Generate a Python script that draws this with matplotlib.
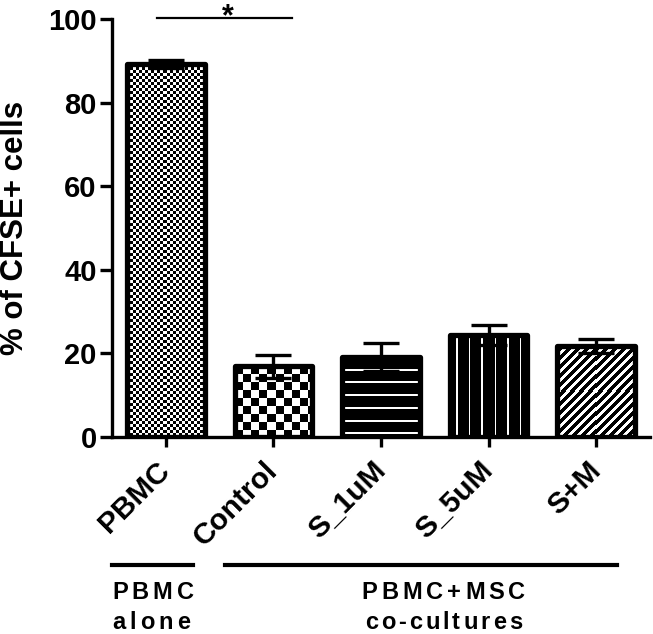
import matplotlib
matplotlib.use('Agg')
import numpy as np
from matplotlib import pyplot as plt
from matplotlib.transforms import offset_copy

plt.rcParams['font.family'] = ['Liberation Sans', 'DejaVu Sans']
plt.rcParams['font.weight'] = 'bold'

labels = ['PBMC', 'Control', 'S_1uM', 'S_5uM', 'S+M']
means = [89.2, 16.9, 19.2, 24.4, 21.8]
sem = [1.0, 2.8, 3.3, 2.4, 1.7]
patterns = ['fine_check', 'check', 'hlines', 'vlines', 'diag']
groups = [['PBMC', 'alone'], ['PBMC+MSC', 'co-cultures']]


def make_pattern(kind, w, h):
    # black parts opaque, white parts transparent (white bar underneath)
    yy, xx = np.mgrid[0:h, 0:w]
    if kind == 'fine_check':
        black = ((xx // 3) + (yy // 3)) % 2 == 0
    elif kind == 'check':
        black = ((xx // 8) + (yy // 8)) % 2 == 0
    elif kind == 'hlines':
        black = (yy % 12.5) >= 2
    elif kind == 'vlines':
        black = ((xx - 6) % 12.5) >= 1.5
    else:
        black = ((xx + yy) % 9) >= 4
    rgba = np.zeros((h, w, 4))
    rgba[..., 3] = black.astype(float)
    return rgba


def spaced_line(ax, x, y, s, tr, track, ha='left', **kw):
    # draw a string char by char with extra letter spacing (in pixels)
    r = ax.figure.canvas.get_renderer()
    widths = []
    for c in s:
        t = ax.text(0, 0, c, **kw)
        widths.append(t.get_window_extent(r).width)
        t.remove()
    total = sum(widths) + track * (len(s) - 1)
    dx = 0 if ha == 'left' else -total / 2
    for c, w in zip(s, widths):
        ax.text(x, y, c, ha='left', va='baseline', clip_on=False,
                transform=offset_copy(tr, ax.figure, x=dx, y=0, units='dots'), **kw)
        dx += w + track


fig = plt.figure(figsize=(6.53, 6.34), dpi=100)
ax = fig.add_axes([112 / 653, 1 - 437 / 634, (650 - 112) / 653, (437 - 19) / 634])
x = np.arange(len(labels))
ax.set_xlim(-0.5, 4.5)
ax.set_ylim(0, 100)

bars = ax.bar(x, means, width=0.72, color='white', edgecolor='none', zorder=1)
ax.errorbar(x, means, yerr=sem, fmt='none', ecolor='black', elinewidth=2.4,
            capsize=13, capthick=2.4, zorder=2)

for b, kind in zip(bars, patterns):
    x0, y0 = b.get_x(), b.get_y()
    w, h = b.get_width(), b.get_height()
    p0 = ax.transData.transform((x0, y0))
    p1 = ax.transData.transform((x0 + w, y0 + h))
    wp = int(round(p1[0] - p0[0]))
    hp = int(round(p1[1] - p0[1]))
    img = ax.imshow(make_pattern(kind, wp, hp), extent=(x0, x0 + w, y0, y0 + h),
                    interpolation='nearest', aspect='auto', zorder=3)
    img.set_clip_path(b)

# thick outlines on top
ax.bar(x, means, width=0.72, fill=False, edgecolor='black', linewidth=3.8,
       joinstyle='round', zorder=4)

ax.set_xlim(-0.5, 4.5)
ax.set_ylim(0, 100)
ax.set_yticks([0, 20, 40, 60, 80, 100])
ax.set_xticks(x)
ax.set_xticklabels(labels, rotation=45, ha='right', va='center', rotation_mode='anchor')
ax.set_ylabel('% of CFSE+ cells', fontsize=22.5, fontweight='bold')
ax.yaxis.set_label_coords(-0.152, 0.5)

for s in ['top', 'right']:
    ax.spines[s].set_visible(False)
for s in ['left', 'bottom']:
    ax.spines[s].set_linewidth(2.4)
ax.tick_params(axis='y', width=2.4, length=9, labelsize=21, pad=2)
ax.tick_params(axis='x', width=2.4, length=7, labelsize=21.5, pad=14)

# significance
ax.plot([-0.08, 1.17], [100.3, 100.3], color='black', lw=1.6, clip_on=False)
ax.text(0.58, 98.6, '*', ha='center', va='baseline', fontsize=22, fontweight='bold')

# group annotations below the axis
tr = ax.get_xaxis_transform()
ax.plot([-0.5, 0.25], [-0.306, -0.306], color='black', lw=3, transform=tr, clip_on=False)
ax.plot([0.55, 4.19], [-0.306, -0.306], color='black', lw=3, transform=tr, clip_on=False)
fig.canvas.draw()
spaced_line(ax, -0.5, -0.388, groups[0][0], tr, 4, ha='left', fontsize=17, fontweight='bold')
spaced_line(ax, -0.5, -0.459, groups[0][1], tr, 4, ha='left', fontsize=17, fontweight='bold')
spaced_line(ax, 2.58, -0.388, groups[1][0], tr, 4, ha='center', fontsize=17, fontweight='bold')
spaced_line(ax, 2.58, -0.459, groups[1][1], tr, 3, ha='center', fontsize=17, fontweight='bold')

fig.savefig('out.png', dpi=100)
